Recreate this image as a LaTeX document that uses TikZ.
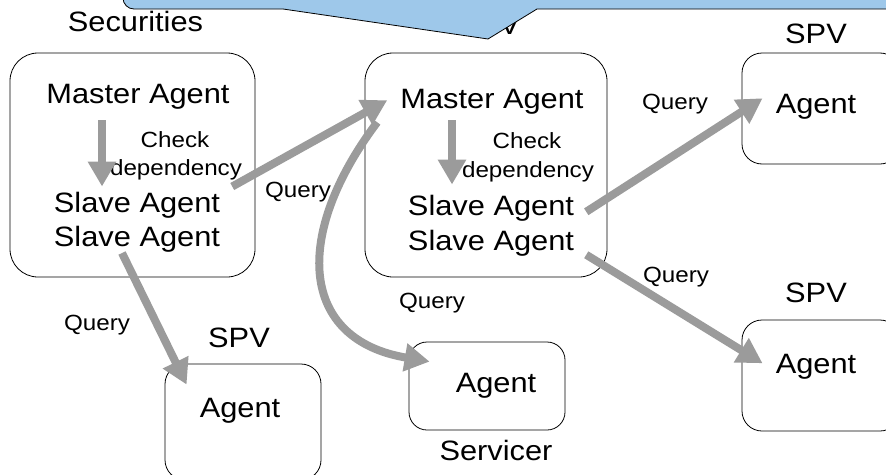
\documentclass[tikz,border=0pt]{standalone}
\usepackage{fontspec}
\setmainfont[FakeStretch=1.1]{Liberation Sans}
\usetikzlibrary{arrows.meta,calc}

\definecolor{flowgray}{RGB}{155,155,155}
\definecolor{calloutblue}{RGB}{158,200,234}

\tikzset{
  box/.style={draw=black, line width=0.8pt, rounded corners=#1, inner sep=0pt},
  big/.style={anchor=base, inner sep=0pt, font=\fontsize{28}{30}\selectfont},
  small/.style={anchor=base, inner sep=0pt, font=\fontsize{22}{24}\selectfont},
  flow/.style={draw=flowgray, line width=8pt,
    -{Triangle[length=25pt,width=27pt]}},
}

\begin{document}
\begin{tikzpicture}[x=1pt,y=-1pt]
\useasboundingbox (0,0) rectangle (886,474);
\clip (0,0) rectangle (886,474);

% containers
\node[box=28pt, minimum width=245pt, minimum height=224pt] (abox) at (132.5,165) {};
\node[box=28pt, minimum width=242pt, minimum height=224pt] (bbox) at (486,165) {};
\node[box=20pt, minimum width=158pt, minimum height=111pt] (cbox) at (821,108.5) {};
\node[box=20pt, minimum width=156pt, minimum height=116pt] (dbox) at (243,422) {};
\node[box=18pt, minimum width=156pt, minimum height=88pt] (ebox) at (487,386) {};
\node[box=20pt, minimum width=158pt, minimum height=111pt] (fbox) at (821,375.5) {};

% titles
\node[big] (sec) at (135.5,31) {Securities};
\node[big] (bspv) at (489,34) {SPV};
\node[big] (cspv) at (816,43) {SPV};
\node[big] (dspv) at (239,347) {SPV};
\node[big] (fspv) at (816,302) {SPV};
\node[big] (eserv) at (496,460) {Servicer};

% agents in the securities box
\node[big] (amaster) at (138,103) {Master Agent};
\node[small] (acheck) at (175,147) {Check};
\node[small] (adep) at (176,175) {dependency};
\node[big] (aslave1) at (137,212) {Slave Agent};
\node[big] (aslave2) at (137,246) {Slave Agent};

% agents in the middle SPV box
\node[big] (bmaster) at (492,108) {Master Agent};
\node[small] (bcheck) at (527,148) {Check};
\node[small] (bdep) at (528,177) {dependency};
\node[big] (bslave1) at (491,215) {Slave Agent};
\node[big] (bslave2) at (491,250) {Slave Agent};

% single agents
\node[big] (cagent) at (816,113) {Agent};
\node[big] (dagent) at (240,417) {Agent};
\node[big] (eagent) at (496,392) {Agent};
\node[big] (fagent) at (816,373) {Agent};

% query labels
\node[small] (q1) at (298,197) {Query};
\node[small] (q2) at (675,109) {Query};
\node[small] (q3) at (97,330) {Query};
\node[small] (q4) at (432,308) {Query};
\node[small] (q5) at (676,282) {Query};

% dependency checks
\draw[flow] ($(amaster.south)+(-36,11)$) -- ($(aslave1.north)+(-35,-5)$);
\draw[flow] ($(bmaster.south)+(-40,6)$) -- ($(bslave1.north)+(-39,-10)$);

% queries
\draw[flow] ($(aslave1.north east)+(12,-5)$) -- ($(bmaster.west)+(-13,-1)$);
\draw[flow] ($(aslave2.south)+(-15,1)$) -- ($(dbox.north west)+(22,21)$);
\draw[flow] ($(bslave1.east)+(12,4)$) -- ($(cagent.west)+(-13,-8)$);
\draw[flow] ($(bslave2.east)+(12,12)$) -- ($(fagent.west)+(-13,-3)$);
\draw[flow] ($(bmaster.west)+(-23,21)$) .. controls +(-85,113) and +(-130,-22) .. ($(ebox.north west)+(21,20)$);

% callout across the top
\filldraw[fill=calloutblue, draw=black, line width=0.8pt]
  (123,-30) [rounded corners=11pt] -- (123,9) [sharp corners] -- (283,9) -- (488,39) -- (537,9) -- (900,9) -- (900,-30) -- cycle;
\end{tikzpicture}
\end{document}
